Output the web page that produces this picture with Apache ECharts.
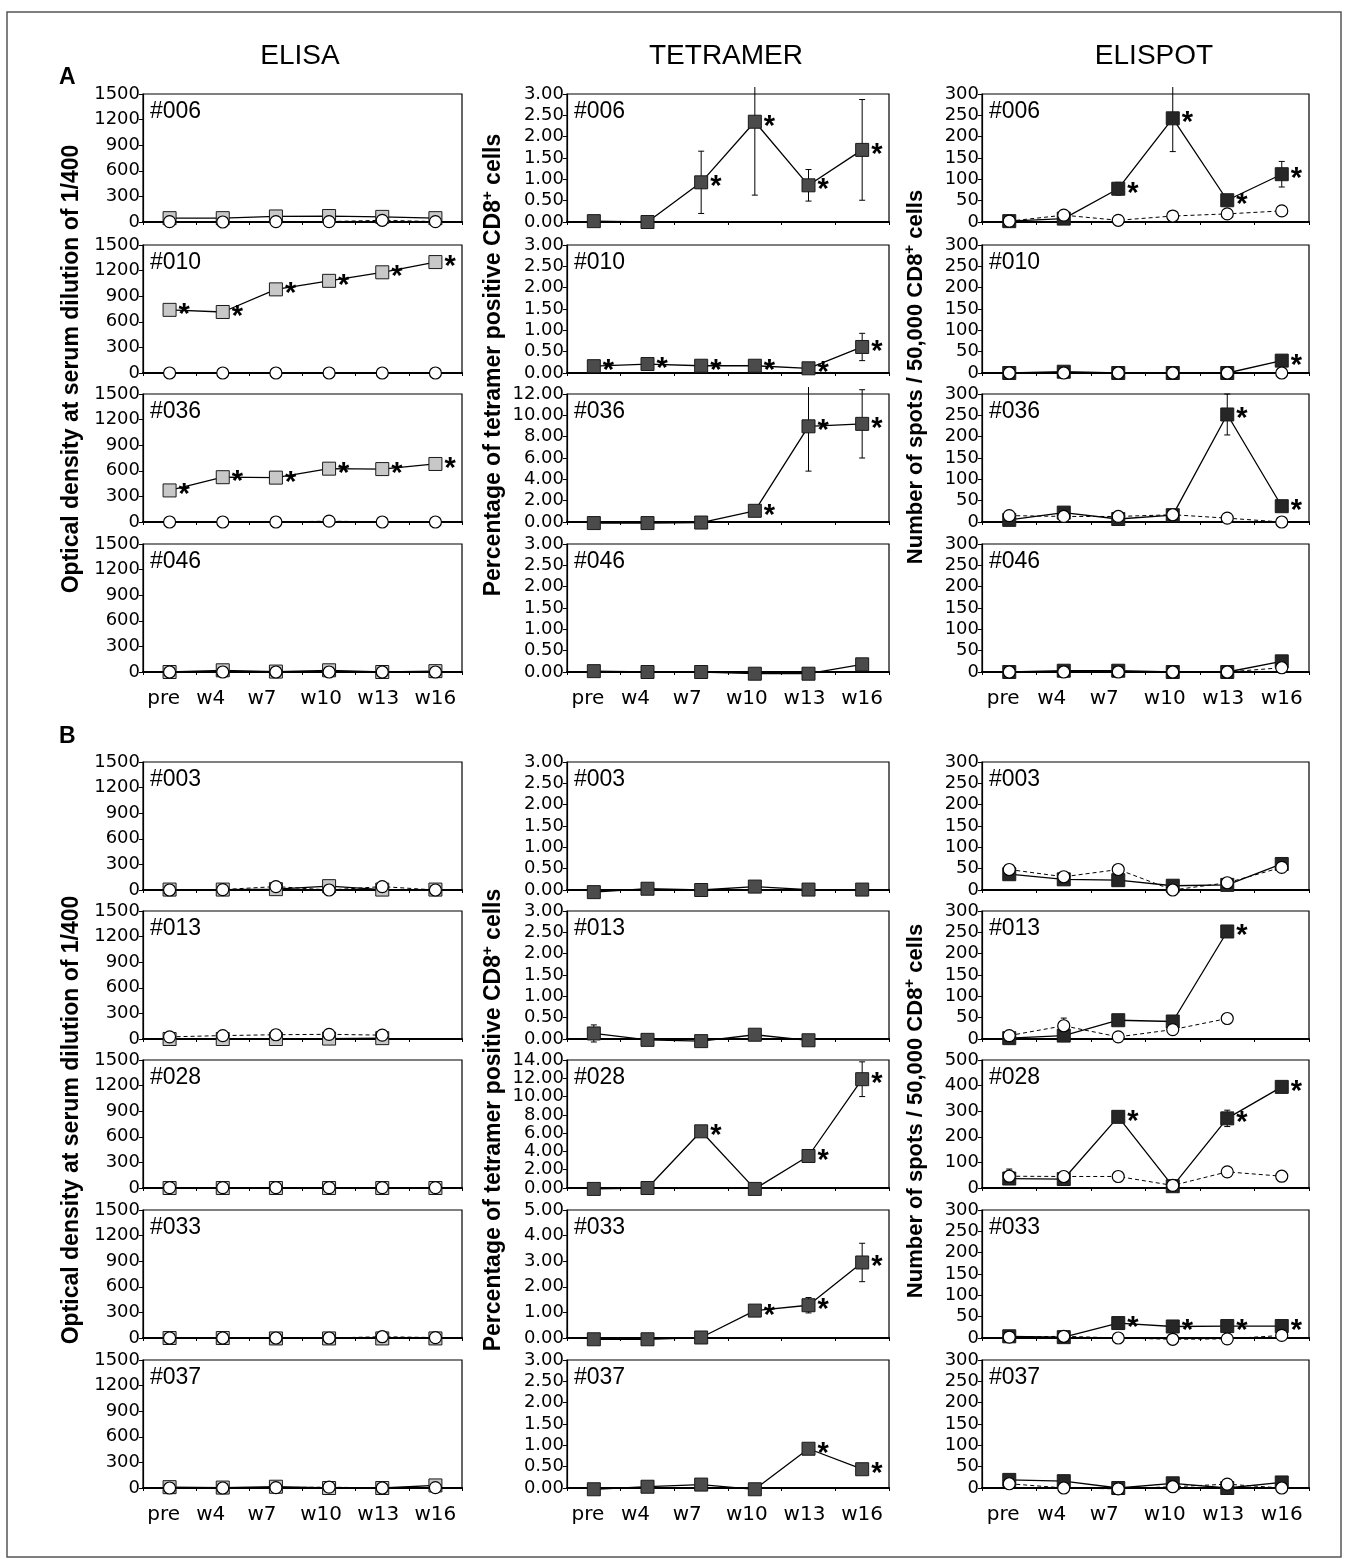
<!DOCTYPE html>
<html>
<head>
<meta charset="utf-8">
<script type="text/javascript" src="https://cdn.jsdelivr.net/npm/echarts@6/dist/echarts.min.js"></script>
<style>
  html, body { margin: 0; padding: 0; background: #fff; }
  #main { width: 1349px; height: 1559px; }
</style>
</head>
<body>
<div id="main"></div>
<script type="text/javascript">
// time points and patients (A: 4 patients, B: 5 patients)
var weeks = ['pre', 'w4', 'w7', 'w10', 'w13', 'w16'];
var patients = ['#006', '#010', '#036', '#046', '#003', '#013', '#028', '#033', '#037'];

// ELISA: squares = peptide, circles = control
var elisaPep = [
	[45, 45, 65, 70, 60, 45],
	[740, 715, 980, 1080, 1180, 1300],
	[370, 525, 520, 625, 620, 680],
	[0, 20, 5, 20, 0, 10],
	[5, 5, 10, 45, 5, 5],
	[0, 0, 0, 5, 10, null],
	[0, 0, 0, 0, 0, 0],
	[0, 0, -5, -5, -5, -5],
	[10, 5, 15, 0, 0, 30]
];
var elisaCtrl = [
	[5, 0, 5, 5, 20, 5],
	[0, 0, 0, 0, 0, 0],
	[0, 0, 0, 10, 0, 0],
	[0, 0, 0, 0, 0, 0],
	[0, 5, 40, 0, 40, 0],
	[25, 40, 50, 55, 45, null],
	[5, 5, 5, 5, 5, 5],
	[0, 0, 0, 0, 15, 5],
	[0, 0, 5, 10, 0, 5]
];
var elisaStars = [[], [0, 1, 2, 3, 4, 5], [0, 1, 2, 3, 4, 5], [], [], [], [], [], []];

// TETRAMER: % tetramer positive CD8+ cells, with +/- error
var tetVal = [
	[0.02, 0.00, 0.93, 2.35, 0.86, 1.69],
	[0.16, 0.21, 0.17, 0.17, 0.11, 0.61],
	[-0.1, -0.1, -0.05, 1.05, 8.97, 9.2],
	[0.02, 0.00, 0.00, -0.04, -0.04, 0.18],
	[-0.05, 0.03, 0.00, 0.08, 0.01, 0.01],
	[0.13, -0.02, -0.05, 0.10, -0.03, null],
	[-0.1, 0.0, 6.2, -0.1, 3.5, 11.9],
	[-0.05, -0.05, 0.02, 1.07, 1.28, 2.95],
	[-0.03, 0.03, 0.08, -0.03, 0.92, 0.44]
];
var tetErr = [
	[0, 0, 0.73, 1.72, 0.37, 1.18],
	[0, 0, 0, 0, 0, 0.32],
	[0, 0, 0, 0.3, 4.2, 3.2],
	[0, 0, 0, 0, 0, 0],
	[0, 0, 0, 0, 0, 0],
	[0.2, 0, 0, 0, 0, null],
	[0, 0, 0, 0, 0.3, 1.9],
	[0, 0, 0, 0.05, 0.3, 0.75],
	[0, 0, 0, 0, 0, 0]
];
var tetStars = [[2, 3, 4, 5], [0, 1, 2, 3, 4, 5], [3, 4, 5], [], [], [], [2, 4, 5], [3, 4, 5], [4, 5]];
var tetMax = [3, 3, 12, 3, 3, 3, 14, 5, 3];
var tetStep = [0.5, 0.5, 2, 0.5, 0.5, 0.5, 2, 1, 0.5];

// ELISPOT: spots / 50,000 CD8+ cells
var spotPep = [
	[2, 8, 78, 243, 51, 112],
	[0, 3, 0, 0, 0, 29],
	[5, 22, 7, 16, 252, 37],
	[0, 3, 3, 0, 0, 25],
	[37, 25, 23, 10, 12, 61],
	[2, 8, 44, 41, 252, null],
	[37, 35, 278, 7, 272, 395],
	[4, 2, 35, 27, 28, 28],
	[19, 16, 0, 11, 0, 13]
];
var spotPepErr = [
	[0, 0, 15, 78, 10, 30],
	[0, 0, 0, 0, 0, 0],
	[0, 0, 0, 0, 48, 0],
	[0, 0, 0, 0, 0, 0],
	[0, 0, 0, 0, 0, 0],
	[0, 0, 8, 0, 12, null],
	[0, 0, 15, 0, 32, 20],
	[0, 0, 0, 0, 0, 0],
	[0, 0, 0, 0, 0, 0]
];
var spotCtrl = [
	[2, 16, 4, 14, 19, 26],
	[0, 0, 0, 0, 0, 0],
	[15, 13, 13, 17, 9, 0],
	[0, 0, 0, 0, 0, 10],
	[48, 31, 48, 0, 17, 53],
	[8, 31, 5, 22, 48, null],
	[46, 45, 45, 10, 63, 46],
	[2, 4, 0, -3, -2, 6],
	[10, 0, -2, 3, 9, 0]
];
var spotCtrlErr = [
	[0, 0, 0, 0, 0, 0],
	[0, 0, 0, 0, 0, 0],
	[0, 0, 0, 0, 0, 0],
	[0, 0, 0, 0, 0, 0],
	[0, 0, 0, 0, 0, 0],
	[0, 18, 0, 0, 0, null],
	[28, 0, 0, 0, 15, 0],
	[0, 0, 0, 0, 0, 0],
	[0, 0, 0, 0, 0, 0]
];
var spotStars = [[2, 3, 4, 5], [5], [4, 5], [], [], [4], [2, 4, 5], [2, 3, 4, 5], []];
var spotMax = [300, 300, 300, 300, 300, 300, 500, 300, 300];
var spotStep = [50, 50, 50, 50, 50, 50, 100, 50, 50];

var elisaTicks = [0, 1500, 300];

// layout
var FONT = 'Liberation Sans, Arial, sans-serif';
var NUMFONT = 'DejaVu Sans, sans-serif';
var rowTop = [94, 245, 394, 544, 762, 911, 1060, 1210, 1360];
var panelH = 128;
var colLeft = [143, 567, 982];
var colWidth = [319, 322, 327];
var fills = ['#c8c8c8', '#4b4b4b', '#262626'];
var labelShift = [-6, -12, -14, -8, -4, 0];   // x label nudge (px), as in the source figure

var myChart = echarts.init(document.getElementById('main'));

var grids = [], xAxes = [], yAxes = [], series = [], graphics = [];

var xRich = {};
labelShift.forEach(function(s, i) {
	xRich['p' + i] = {
		fontSize: 20, color: '#000', fontFamily: NUMFONT,
		padding: s < 0 ? [0, -2 * s, 0, 0] : [0, 0, 0, 2 * s]
	};
});

function errorSeries(k, vals, errs) {
	var data = [];
	for (var i = 0; i < vals.length; i++) {
		if (vals[i] != null && errs[i]) data.push([i, vals[i], errs[i]]);
	}
	return {
		type: 'custom',
		xAxisIndex: k,
		yAxisIndex: k,
		clip: false,
		z: 2,
		silent: true,
		data: data,
		encode: { x: 0, y: 1 },
		renderItem: function(params, api) {
			var x = api.coord([api.value(0), 0])[0];
			var lo = api.coord([api.value(0), api.value(1) - api.value(2)])[1];
			var hi = api.coord([api.value(0), api.value(1) + api.value(2)])[1];
			var limit = params.coordSys.y - 7;
			var clipped = hi < limit;
			if (clipped) hi = limit;
			var st = { stroke: '#000', lineWidth: 1 };
			var kids = [
				{ type: 'line', shape: { x1: x, y1: lo, x2: x, y2: hi }, style: st },
				{ type: 'line', shape: { x1: x - 3, y1: lo, x2: x + 3, y2: lo }, style: st }
			];
			if (!clipped) kids.push({ type: 'line', shape: { x1: x - 3, y1: hi, x2: x + 3, y2: hi }, style: st });
			return { type: 'group', children: kids };
		}
	};
}

function squareSeries(k, vals, stars, fill) {
	return {
		type: 'line',
		xAxisIndex: k,
		yAxisIndex: k,
		clip: false,
		z: 4,
		showAllSymbol: true,
		symbol: 'rect',
		symbolSize: 13,
		itemStyle: { color: fill, borderColor: '#1a1a1a', borderWidth: 1 },
		lineStyle: { color: '#000', width: 1.3 },
		label: {
			formatter: '*', position: 'right', distance: 2, offset: [0, 5],
			fontSize: 29, fontWeight: 'bold', color: '#000', fontFamily: FONT
		},
		data: vals.map(function(v, i) {
			return { value: v == null ? '-' : v, label: { show: stars.indexOf(i) >= 0 } };
		})
	};
}

function circleSeries(k, vals) {
	return {
		type: 'line',
		xAxisIndex: k,
		yAxisIndex: k,
		clip: false,
		z: 5,
		showAllSymbol: true,
		symbol: 'circle',
		symbolSize: 12,
		itemStyle: { color: '#fff', borderColor: '#000', borderWidth: 1.2 },
		lineStyle: { color: '#000', width: 1, type: [4, 3] },
		data: vals.map(function(v) { return v == null ? '-' : v; })
	};
}

for (var c = 0; c < 3; c++) {
	for (var r = 0; r < 9; r++) {
		var k = c * 9 + r;
		var last = (r === 3 || r === 8);
		grids.push({
			left: colLeft[c], top: rowTop[r], width: colWidth[c], height: panelH,
			show: true, borderColor: '#000', borderWidth: 1.2, backgroundColor: 'transparent'
		});
		xAxes.push({
			type: 'category', gridIndex: k, data: weeks, boundaryGap: true,
			axisLine: { show: true, lineStyle: { color: '#000', width: 2.2 } },
			axisTick: { show: true, length: 3, lineStyle: { color: '#000', width: 1 } },
			axisLabel: {
				show: last, margin: 17, interval: 0, rich: xRich,
				formatter: function(v, i) { return '{p' + i + '|' + v + '}'; }
			},
			splitLine: { show: false }
		});
		var ymax, step, fmt;
		if (c === 0) { ymax = elisaTicks[1]; step = elisaTicks[2]; fmt = function(v) { return String(v); }; }
		else if (c === 1) { ymax = tetMax[r]; step = tetStep[r]; fmt = function(v) { return v.toFixed(2); }; }
		else { ymax = spotMax[r]; step = spotStep[r]; fmt = function(v) { return String(v); }; }
		yAxes.push({
			type: 'value', gridIndex: k, min: 0, max: ymax, interval: step,
			axisLine: { show: true, lineStyle: { color: '#000', width: 1.2 } },
			axisTick: { show: true, length: 4, lineStyle: { color: '#000', width: 1 } },
			axisLabel: {
				fontSize: 18, color: '#000', fontFamily: NUMFONT, margin: 3, formatter: fmt,
				showMinLabel: true, showMaxLabel: true, hideOverlap: false
			},
			splitLine: { show: false }
		});
		if (c === 0) {
			series.push(squareSeries(k, elisaPep[r], elisaStars[r], fills[0]));
			series.push(circleSeries(k, elisaCtrl[r]));
		} else if (c === 1) {
			series.push(errorSeries(k, tetVal[r], tetErr[r]));
			series.push(squareSeries(k, tetVal[r], tetStars[r], fills[1]));
		} else {
			series.push(errorSeries(k, spotPep[r], spotPepErr[r]));
			series.push(errorSeries(k, spotCtrl[r], spotCtrlErr[r]));
			series.push(squareSeries(k, spotPep[r], spotStars[r], fills[2]));
			series.push(circleSeries(k, spotCtrl[r]));
		}
		graphics.push({
			type: 'text', left: colLeft[c] + 7, top: rowTop[r] + 6, z: 10,
			style: { text: patients[r], font: '23px ' + FONT, fill: '#000' }
		});
	}
}

// column headers, panel letters, frame
var heads = ['ELISA', 'TETRAMER', 'ELISPOT'];
var headX = [300, 726, 1154];
heads.forEach(function(h, i) {
	graphics.push({
		type: 'text', x: headX[i], y: 56,
		style: { text: h, font: '28px ' + FONT, fill: '#000', align: 'center', verticalAlign: 'middle' }
	});
});
graphics.push({ type: 'text', x: 59, y: 78, style: { text: 'A', font: 'bold 23px ' + FONT, fill: '#000', verticalAlign: 'middle' } });
graphics.push({ type: 'text', x: 59, y: 737, style: { text: 'B', font: 'bold 23px ' + FONT, fill: '#000', verticalAlign: 'middle' } });
graphics.push({
	type: 'rect', shape: { x: 7, y: 12, width: 1334, height: 1545 }, z: 0,
	style: { fill: 'none', stroke: '#555', lineWidth: 1.5 }
});

// rotated y-axis titles
var yTitles = [
	{ text: '{t|Optical density at serum dilution of 1/400}', x: 72, yc: [369, 1120], size: 23 },
	{ text: '{t|Percentage of tetramer positive CD8}{s|+}{t| cells}', x: 494, yc: [365, 1120], size: 23 },
	{ text: '{t|Number of spots / 50,000 CD8}{s|+}{t| cells}', x: 916, yc: [377, 1111], size: 22 }
];
yTitles.forEach(function(t) {
	t.yc.forEach(function(yc) {
		graphics.push({
			type: 'text', x: t.x, y: yc, rotation: Math.PI / 2,
			style: {
				text: t.text, align: 'center', verticalAlign: 'middle',
				rich: {
					t: { font: 'bold ' + t.size + 'px ' + FONT, fill: '#000', lineHeight: 28 },
					s: { font: 'bold 15px ' + FONT, fill: '#000', verticalAlign: 'top', lineHeight: 28 }
				}
			}
		});
	});
});

var option = {
	backgroundColor: '#fff',
	animation: false,
	grid: grids,
	xAxis: xAxes,
	yAxis: yAxes,
	series: series,
	graphic: graphics
};
myChart.setOption(option);
</script>
</body>
</html>
